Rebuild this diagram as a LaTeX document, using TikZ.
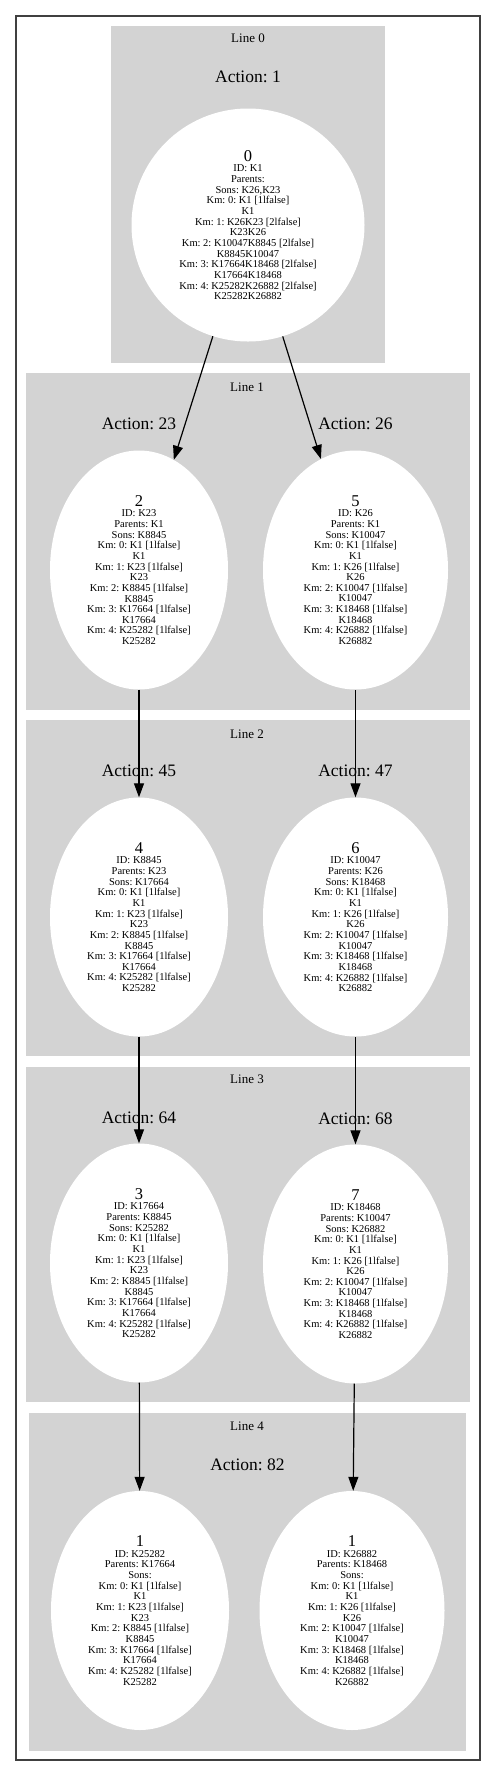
\documentclass[tikz,border=0pt]{standalone}
\usepackage{fontspec}
\setmainfont{Liberation Serif}
\usetikzlibrary{arrows.meta,positioning,shapes.geometric}
\definecolor{bandgray}{HTML}{D3D3D3}
\frenchspacing
\newcommand{\nodenum}[1]{{\fontsize{16.5bp}{18bp}\selectfont #1}}
\tikzset{
  band/.style={fill=bandgray},
  state/.style={ellipse, fill=white, inner sep=0pt, minimum width=178bp, minimum height=239bp, align=center, font=\fontsize{10.5bp}{10.65bp}\selectfont},
  wide/.style={minimum width=185bp},
  root/.style={circle, fill=white, inner sep=0pt, minimum size=233bp, align=center, font=\fontsize{10.5bp}{10.65bp}\selectfont},
  lbl/.style={font=\fontsize{13bp}{15bp}\selectfont, inner sep=0pt},
  act/.style={font=\fontsize{17.5bp}{20bp}\selectfont, inner sep=0pt},
  arr/.style={-{Triangle[length=14bp,width=10bp]}, line width=1.2bp},
}
\begin{document}
\begin{tikzpicture}[x=1bp, y=-1bp]
\useasboundingbox (0,0) rectangle (496,1777);
\draw[line width=1.5bp, black!75] (16,16) rectangle (480,1760);
% bands
\fill[band] (111,26) rectangle (385,363);
\fill[band] (26,373) rectangle (470,710);
\fill[band] (26,720) rectangle (470,1056);
\fill[band] (26,1067) rectangle (470,1402);
\fill[band] (29,1413) rectangle (466,1751);
\node[lbl] (l0) at (248,38.5) {Line 0};
\node[lbl] (l1) at (247,387) {Line 1};
\node[lbl] (l2) at (247,734) {Line 2};
\node[lbl] (l3) at (247,1079) {Line 3};
\node[lbl] (l4) at (247,1426) {Line 4};
% line 0
\node[root] (n0) at (248,225) {\nodenum{0}\\ID: K1\\Parents:\\Sons: K26,K23\\Km: 0: K1 [1lfalse]\\K1\\Km: 1: K26K23 [2lfalse]\\K23K26\\Km: 2: K10047K8845 [2lfalse]\\K8845K10047\\Km: 3: K17664K18468 [2lfalse]\\K17664K18468\\Km: 4: K25282K26882 [2lfalse]\\K25282K26882};
\node[act, above=25bp of n0] (a1) {Action: 1};
% line 1
\node[state] (n2) at (139,570) {\nodenum{2}\\ID: K23\\Parents: K1\\Sons: K8845\\Km: 0: K1 [1lfalse]\\K1\\Km: 1: K23 [1lfalse]\\K23\\Km: 2: K8845 [1lfalse]\\K8845\\Km: 3: K17664 [1lfalse]\\K17664\\Km: 4: K25282 [1lfalse]\\K25282};
\node[state, wide] (n5) at (355.5,570) {\nodenum{5}\\ID: K26\\Parents: K1\\Sons: K10047\\Km: 0: K1 [1lfalse]\\K1\\Km: 1: K26 [1lfalse]\\K26\\Km: 2: K10047 [1lfalse]\\K10047\\Km: 3: K18468 [1lfalse]\\K18468\\Km: 4: K26882 [1lfalse]\\K26882};
\node[act, above=20bp of n2] (a23) {Action: 23};
\node[act, above=20bp of n5] (a26) {Action: 26};
% line 2
\node[state] (n4) at (139,917) {\nodenum{4}\\ID: K8845\\Parents: K23\\Sons: K17664\\Km: 0: K1 [1lfalse]\\K1\\Km: 1: K23 [1lfalse]\\K23\\Km: 2: K8845 [1lfalse]\\K8845\\Km: 3: K17664 [1lfalse]\\K17664\\Km: 4: K25282 [1lfalse]\\K25282};
\node[state, wide] (n6) at (355.5,917) {\nodenum{6}\\ID: K10047\\Parents: K26\\Sons: K18468\\Km: 0: K1 [1lfalse]\\K1\\Km: 1: K26 [1lfalse]\\K26\\Km: 2: K10047 [1lfalse]\\K10047\\Km: 3: K18468 [1lfalse]\\K18468\\Km: 4: K26882 [1lfalse]\\K26882};
\node[act, above=20bp of n4] (a45) {Action: 45};
\node[act, above=20bp of n6] (a47) {Action: 47};
% line 3
\node[state] (n3) at (139,1263) {\nodenum{3}\\ID: K17664\\Parents: K8845\\Sons: K25282\\Km: 0: K1 [1lfalse]\\K1\\Km: 1: K23 [1lfalse]\\K23\\Km: 2: K8845 [1lfalse]\\K8845\\Km: 3: K17664 [1lfalse]\\K17664\\Km: 4: K25282 [1lfalse]\\K25282};
\node[state, wide] (n7) at (355.5,1264) {\nodenum{7}\\ID: K18468\\Parents: K10047\\Sons: K26882\\Km: 0: K1 [1lfalse]\\K1\\Km: 1: K26 [1lfalse]\\K26\\Km: 2: K10047 [1lfalse]\\K10047\\Km: 3: K18468 [1lfalse]\\K18468\\Km: 4: K26882 [1lfalse]\\K26882};
\node[act, above=19bp of n3] (a64) {Action: 64};
\node[act, above=19bp of n7] (a68) {Action: 68};
% line 4
\node[state] (n1a) at (140,1610.5) {\nodenum{1}\\ID: K25282\\Parents: K17664\\Sons:\\Km: 0: K1 [1lfalse]\\K1\\Km: 1: K23 [1lfalse]\\K23\\Km: 2: K8845 [1lfalse]\\K8845\\Km: 3: K17664 [1lfalse]\\K17664\\Km: 4: K25282 [1lfalse]\\K25282};
\node[state, wide] (n1b) at (352,1610.5) {\nodenum{1}\\ID: K26882\\Parents: K18468\\Sons:\\Km: 0: K1 [1lfalse]\\K1\\Km: 1: K26 [1lfalse]\\K26\\Km: 2: K10047 [1lfalse]\\K10047\\Km: 3: K18468 [1lfalse]\\K18468\\Km: 4: K26882 [1lfalse]\\K26882};
\node[act] (a82) at (247.5,1464.5) {Action: 82};
% edges
\draw[arr] (n0) -- (n2);
\draw[arr] (n0) -- (n5);
\draw[arr] (n2) -- (n4);
\draw[arr] (n5) -- (n6);
\draw[arr] (n4) -- (n3);
\draw[arr] (n6) -- (n7);
\draw[arr] (n3) -- (n1a);
\draw[arr] (n7) -- (n1b);
\end{tikzpicture}
\end{document}
